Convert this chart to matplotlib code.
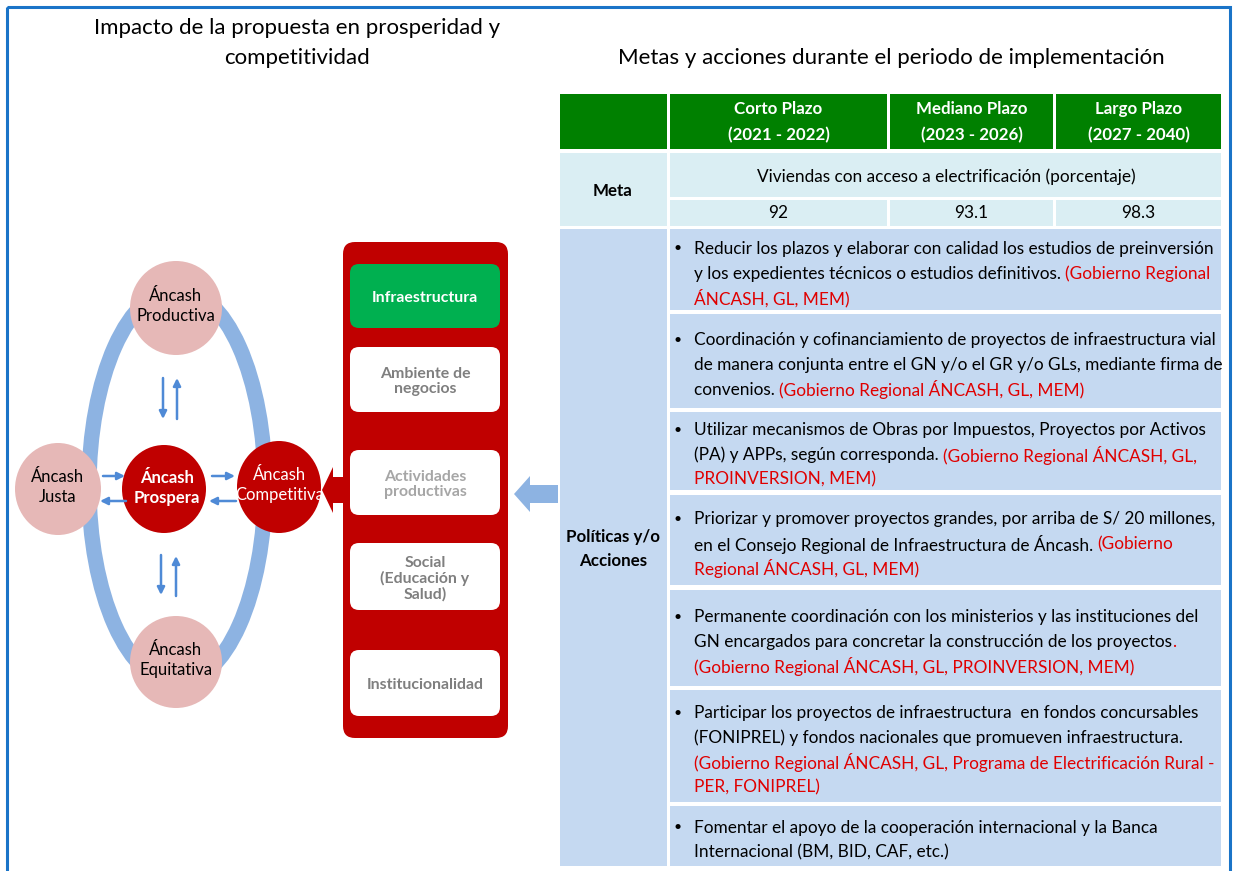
import matplotlib
matplotlib.use("Agg")
import matplotlib.pyplot as plt
from matplotlib.patches import Ellipse, Rectangle, FancyBboxPatch, FancyArrow

plt.rcParams['font.family'] = ['Lato', 'DejaVu Sans']

# ---- data ----
titulo_izq = ["Impacto de la propuesta en prosperidad y", "competitividad"]
titulo_der = "Metas y acciones durante el periodo de implementación"

nodos = ["Áncash\nProductiva", "Áncash\nJusta", "Áncash\nProspera",
         "Áncash\nCompetitiva", "Áncash\nEquitativa"]
pilares = ["Infraestructura", "Ambiente de\nnegocios", "Actividades\nproductivas",
           "Social\n(Educación y\nSalud)", "Institucionalidad"]

plazos = ["Corto Plazo", "Mediano Plazo", "Largo Plazo"]
periodos = ["(2021 - 2022)", "(2023 - 2026)", "(2027 - 2040)"]
meta_nombre = "Viviendas con acceso a electrificación (porcentaje)"
meta_valores = [92, 93.1, 98.3]
etiqueta_acciones = ["Políticas y/o", "Acciones"]

# "|" marks where the red text (responsables) starts on a line
acciones = [
    ["Reducir los plazos y elaborar con calidad los estudios de preinversión",
     "y los expedientes técnicos o estudios definitivos. |(Gobierno Regional",
     "|ÁNCASH, GL, MEM)"],
    ["Coordinación y cofinanciamiento de proyectos de infraestructura vial",
     "de manera conjunta entre el GN y/o el GR y/o GLs, mediante firma de",
     "convenios. |(Gobierno Regional ÁNCASH, GL, MEM)"],
    ["Utilizar mecanismos de Obras por Impuestos, Proyectos por Activos",
     "(PA) y APPs, según corresponda. |(Gobierno Regional ÁNCASH, GL,",
     "|PROINVERSION, MEM)"],
    ["Priorizar y promover proyectos grandes, por arriba de S/ 20 millones,",
     "en el Consejo Regional de Infraestructura de Áncash. |(Gobierno",
     "|Regional ÁNCASH, GL, MEM)"],
    ["Permanente coordinación con los ministerios y las instituciones del",
     "GN encargados para concretar la construcción de los proyectos|.",
     "|(Gobierno Regional ÁNCASH, GL, PROINVERSION, MEM)"],
    ["Participar los proyectos de infraestructura  en fondos concursables",
     "(FONIPREL) y fondos nacionales que promueven infraestructura.",
     "|(Gobierno Regional ÁNCASH, GL, Programa de Electrificación Rural -",
     "|PER, FONIPREL)"],
    ["Fomentar el apoyo de la cooperación internacional y la Banca",
     "Internacional (BM, BID, CAF, etc.)"],
]

# ---- colours ----
AZUL_MARCO = '#1A74C8'
AZUL_ANILLO = '#8DB3E2'
AZUL_FLECHA = '#4F8AD6'
ROSA = '#E6B8B7'
ROJO = '#C00000'
ROJO_TXT = '#E00000'
VERDE = '#008000'
VERDE_PILAR = '#00B050'
CELESTE = '#DAEEF3'
AZUL_CELDA = '#C5D9F1'
FS = 12.4  # table text size

W, H = 1236, 871
fig = plt.figure(figsize=(W / 100, H / 100), dpi=100)
ax = fig.add_axes([0, 0, 1, 1])
ax.set_xlim(0, W)
ax.set_ylim(H, 0)
ax.axis('off')
renderer = fig.canvas.get_renderer()

# frame
ax.add_patch(Rectangle((7, 7), 1223, 880, fill=False, ec=AZUL_MARCO, lw=2.2))

# titles
ax.text(297, 28, titulo_izq[0], ha='center', va='center', fontsize=16)
ax.text(297, 58, titulo_izq[1], ha='center', va='center', fontsize=16)
ax.text(891, 58, titulo_der, ha='center', va='center', fontsize=16)

# ---- left diagram ----
ax.add_patch(Ellipse((177, 486), 176, 394, fill=False, ec=AZUL_ANILLO, lw=11))

nodo_pos = [(176, 308), (58, 489), (164, 489), (279, 487), (176, 662)]
nodo_size = [(46, 47), (43, 46), (42, 44), (42, 46), (46, 46)]
nodo_col = [ROSA, ROSA, ROJO, ROJO, ROSA]
for lab, (cx, cy), (rx, ry), col in zip(nodos, nodo_pos, nodo_size, nodo_col):
    ax.add_patch(Ellipse((cx, cy), 2 * rx, 2 * ry, fc=col, ec='none'))
    if lab.endswith('Prospera'):
        ax.text(cx + 3, cy - 1, lab, ha='center', va='center', color='white',
                fontsize=12, fontweight='bold', linespacing=1.3)
    elif col == ROJO:
        ax.text(cx + 1, cy - 2, lab, ha='center', va='center', color='white',
                fontsize=12, linespacing=1.3)
    else:
        ax.text(cx, cy - 2, lab, ha='center', va='center', color='black',
                fontsize=12, linespacing=1.3)

flechas = [((163, 378), (163, 419)), ((177, 419), (177, 378)),
           ((161, 555), (161, 595)), ((176, 596), (176, 556)),
           ((103, 476), (125, 476)), ((126, 501), (100, 501)),
           ((212, 476), (235, 476)), ((236, 501), (209, 501))]
for a, b in flechas:
    ax.annotate('', xy=b, xytext=a,
                arrowprops=dict(arrowstyle='-|>', color=AZUL_FLECHA, lw=1.8,
                                mutation_scale=11, shrinkA=0, shrinkB=0))

# pillar column
ax.add_patch(FancyBboxPatch((343, 242), 165, 496,
                            boxstyle='round,pad=0,rounding_size=12',
                            fc=ROJO, ec='none'))
pilar_y = [(264, 328), (347, 412), (450, 515), (543, 610), (650, 716)]
pilar_txt = ['white', '#7F7F7F', '#A6A6A6', '#7F7F7F', '#7F7F7F']
for i, (lab, (y0, y1)) in enumerate(zip(pilares, pilar_y)):
    ax.add_patch(FancyBboxPatch((350, y0), 150, y1 - y0,
                                boxstyle='round,pad=0,rounding_size=9',
                                fc=VERDE_PILAR if i == 0 else 'white', ec='none'))
    ax.text(425, (y0 + y1) / 2 + 2, lab, ha='center', va='center',
            color=pilar_txt[i], fontsize=11.4, fontweight='bold',
            linespacing=1.1)

# big arrows
ax.add_patch(FancyArrow(346, 490, -13, 0, width=26, head_width=46,
                        head_length=11, length_includes_head=False,
                        fc=ROJO, ec='none'))
ax.add_patch(FancyArrow(558, 494, -28, 0, width=18, head_width=36,
                        head_length=16, fc=AZUL_ANILLO, ec='none'))

# ---- right table ----
cols = [(560, 667), (670, 887), (890, 1053), (1056, 1221)]

def celda(x0, x1, y0, y1, color):
    ax.add_patch(Rectangle((x0, y0), x1 - x0, y1 - y0, fc=color, ec='none'))

# header
for x0, x1 in cols:
    celda(x0, x1, 94, 149, VERDE)
for (x0, x1), p, per in zip(cols[1:], plazos, periodos):
    ax.text((x0 + x1) / 2, 109, p, ha='center', va='center', color='white',
            fontsize=12.2, fontweight='bold')
    ax.text((x0 + x1) / 2, 135, per, ha='center', va='center', color='white',
            fontsize=12.2, fontweight='bold')

# meta
celda(560, 667, 153, 226, CELESTE)
celda(670, 1221, 153, 197, CELESTE)
ax.text(613, 191, "Meta", ha='center', va='center', fontsize=12.2,
        fontweight='bold')
ax.text(946, 177, meta_nombre, ha='center', va='center', fontsize=FS)
for (x0, x1), v in zip(cols[1:], meta_valores):
    celda(x0, x1, 200, 226, CELESTE)
    ax.text((x0 + x1) / 2, 213, str(v), ha='center', va='center',
            fontsize=FS)

# policies
celda(560, 667, 229, 866, AZUL_CELDA)
ax.text(613, 537, etiqueta_acciones[0], ha='center', va='center',
        fontsize=12.2, fontweight='bold')
ax.text(613, 561, etiqueta_acciones[1], ha='center', va='center',
        fontsize=12.2, fontweight='bold')

filas = [(229, 310), (314, 408), (412, 490), (495, 585), (590, 686),
         (690, 802), (806, 866)]
paso = 24.6
for (y0, y1), lineas in zip(filas, acciones):
    celda(670, 1221, y0, y1, AZUL_CELDA)
    c = (y0 + y1) / 2 + 2.5
    ys = [c + (k - (len(lineas) - 1) / 2) * paso for k in range(len(lineas))]
    ax.text(678, ys[0], "•", ha='center', va='center_baseline', fontsize=10)
    for y, ln in zip(ys, lineas):
        negro, sep, rojo = ln.partition('|')
        x = 694
        if negro:
            t = ax.text(x, y, negro, ha='left', va='center_baseline',
                        fontsize=FS, color='black')
            x += t.get_window_extent(renderer).width
        if sep:
            ax.text(x, y, rojo, ha='left', va='center_baseline',
                    fontsize=FS, color=ROJO_TXT)

fig.savefig('out.png', dpi=100)
